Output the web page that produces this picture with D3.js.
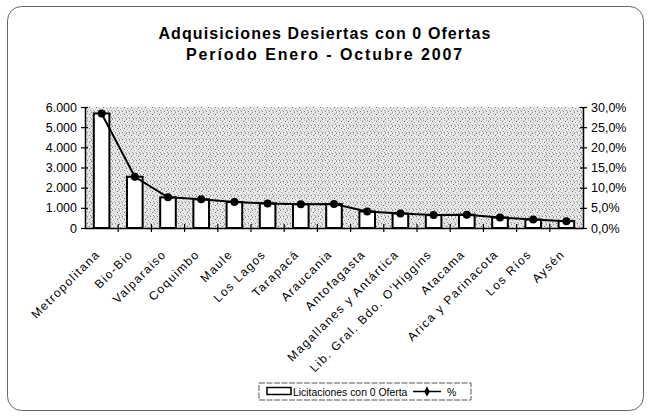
<!DOCTYPE html>
<html>
<head>
<meta charset="utf-8">
<script src="https://cdn.jsdelivr.net/npm/d3@7"></script>
<style>
  html, body { margin: 0; padding: 0; background: #fff; }
  svg text { font-family: "Liberation Sans", Arial, sans-serif; fill: #000; }
</style>
</head>
<body>
<div id="chart"></div>
<script>
/* ── data ─────────────────────────────────────── */
const regions = [
  'Metropolitana', 'Bio-Bio', 'Valparaiso', 'Coquimbo', 'Maule', 'Los Lagos',
  'Tarapacá', 'Araucania', 'Antofagasta', 'Magallanes y Antártica',
  "Lib. Gral. Bdo. O'Higgins", 'Atacama', 'Arica y Parinacota', 'Los Ríos', 'Aysén'
];
const licitaciones = [5680, 2540, 1520, 1420, 1290, 1220, 1180, 1190, 820, 720, 640, 660, 520, 420, 340];
const porcentaje   = [0.284, 0.127, 0.076, 0.071, 0.0645, 0.061, 0.059, 0.0595, 0.041, 0.036, 0.032, 0.033, 0.026, 0.021, 0.017];
const leftTicks    = [0, 1000, 2000, 3000, 4000, 5000, 6000];
const rightTicks   = [0, 0.05, 0.10, 0.15, 0.20, 0.25, 0.30];
const titleLines   = ['Adquisiciones Desiertas con 0 Ofertas', 'Período Enero - Octubre 2007'];

/* ── layout ───────────────────────────────────── */
const W = 649, H = 417;
const plot = { left: 85, right: 583, top: 107, bottom: 228 };
const fmtInt = n => n === 0 ? '0' : d3.format(',')(n).replace(/,/g, '.');
const fmtPct = p => d3.format('.1f')(p * 100).replace('.', ',') + '%';

const svg = d3.select('#chart').append('svg')
  .attr('width', W).attr('height', H);

svg.append('rect').attr('width', W).attr('height', H).attr('fill', '#fff');

// stipple texture for plot background (fixed tile)
const defs = svg.append('defs');
const pat = defs.append('pattern')
  .attr('id', 'stipple').attr('patternUnits', 'userSpaceOnUse')
  .attr('width', 7).attr('height', 7);
pat.append('rect').attr('width', 7).attr('height', 7).attr('fill', '#e8e8e8');
[[0,0,'#8a8a8a'],[3,1,'#b0b0b0'],[5,2,'#6e6e6e'],[1,3,'#a4a4a4'],[4,4,'#c0c0c0'],
 [6,5,'#909090'],[2,5,'#bcbcbc'],[0,6,'#b4b4b4'],[3,6,'#7c7c7c'],[6,1,'#c4c4c4']]
  .forEach(([x, y, c]) => pat.append('rect')
    .attr('x', x).attr('y', y).attr('width', 1).attr('height', 1).attr('fill', c));

// chart frame
svg.append('rect')
  .attr('x', 7.5).attr('y', 6.5).attr('width', 636).attr('height', 404)
  .attr('rx', 14).attr('fill', 'none')
  .attr('stroke', '#666').attr('stroke-width', 1);

/* ── title ────────────────────────────────────── */
svg.append('g').selectAll('text').data(titleLines).join('text')
  .attr('x', 325).attr('y', (d, i) => 39 + i * 21)
  .attr('text-anchor', 'middle')
  .attr('font-size', '16px').attr('font-weight', 'bold')
  .attr('letter-spacing', (d, i) => i === 0 ? '1.1px' : '1.9px')
  .text(d => d);

/* ── scales ───────────────────────────────────── */
const x = d3.scaleBand().domain(regions)
  .range([plot.left, plot.right]).paddingInner(0.53).paddingOuter(0.265);
const yL = d3.scaleLinear().domain([0, 6000]).range([plot.bottom, plot.top]);
const yR = d3.scaleLinear().domain([0, 0.30]).range([plot.bottom, plot.top]);
const step = x.step();

// plot background
svg.append('rect')
  .attr('x', plot.left).attr('y', plot.top)
  .attr('width', plot.right - plot.left).attr('height', plot.bottom - plot.top)
  .attr('fill', 'url(#stipple)');

/* ── bars ─────────────────────────────────────── */
svg.append('g').selectAll('rect').data(licitaciones).join('rect')
  .attr('x', (d, i) => x(regions[i]))
  .attr('y', d => yL(d))
  .attr('width', x.bandwidth())
  .attr('height', d => plot.bottom - yL(d))
  .attr('fill', '#fff').attr('stroke', '#000').attr('stroke-width', 2);

/* ── axes ─────────────────────────────────────── */
const axisL = svg.append('g').attr('transform', `translate(${plot.left},0)`)
  .call(d3.axisLeft(yL).tickValues(leftTicks).tickFormat(fmtInt).tickSizeInner(4).tickSizeOuter(0).tickPadding(4));
axisL.selectAll('.tick line').attr('x2', -4).attr('x1', 3);

const axisR = svg.append('g').attr('transform', `translate(${plot.right},0)`)
  .call(d3.axisRight(yR).tickValues(rightTicks).tickFormat(fmtPct).tickSizeInner(4).tickSizeOuter(0).tickPadding(4));
axisR.selectAll('.tick line').attr('x2', 4).attr('x1', -3);

const axisB = svg.append('g').attr('transform', `translate(0,${plot.bottom})`)
  .call(d3.axisBottom(x).tickSizeInner(0).tickSizeOuter(0));
axisB.selectAll('.tick line').remove();

// category boundary ticks crossing the axis
svg.append('g').selectAll('line').data(d3.range(1, regions.length)).join('line')
  .attr('x1', i => plot.left + i * step).attr('x2', i => plot.left + i * step)
  .attr('y1', plot.bottom - 4).attr('y2', plot.bottom + 4)
  .attr('stroke', '#000').attr('stroke-width', 1.2);

[axisL, axisR, axisB].forEach(g => {
  g.select('.domain').attr('stroke', '#000').attr('stroke-width', 1.5);
  g.selectAll('.tick line').attr('stroke', '#000').attr('stroke-width', 1.2);
  g.selectAll('text').attr('font-size', '12.5px')
    .attr('font-family', '"Liberation Sans", Arial, sans-serif').attr('fill', '#000');
});
axisB.selectAll('.tick text')
  .attr('text-anchor', 'end')
  .attr('dy', 0).attr('y', 0)
  .attr('font-size', '12px').attr('letter-spacing', '1.4px')
  .attr('transform', 'translate(-1,27) rotate(-45)');

/* ── line ─────────────────────────────────────── */
const cx = i => x(regions[i]) + x.bandwidth() / 2;
svg.append('path')
  .datum(porcentaje)
  .attr('fill', 'none').attr('stroke', '#000').attr('stroke-width', 2)
  .attr('d', d3.line().x((d, i) => cx(i)).y(d => yR(d)));

svg.append('g').selectAll('circle').data(porcentaje).join('circle')
  .attr('cx', (d, i) => cx(i)).attr('cy', d => yR(d)).attr('r', 4)
  .attr('fill', '#000');

/* ── legend ───────────────────────────────────── */
const lg = svg.append('g').attr('transform', 'translate(259,383)');
lg.append('rect').attr('width', 212).attr('height', 17)
  .attr('fill', '#fff').attr('stroke', '#555').attr('stroke-width', 1)
  .attr('stroke-dasharray', '6,1.5');
lg.append('rect').attr('x', 8).attr('y', 4.5).attr('width', 24).attr('height', 7)
  .attr('fill', '#fff').attr('stroke', '#000').attr('stroke-width', 1.5);
lg.append('text').attr('x', 34).attr('y', 13).attr('font-size', '10.4px')
  .text('Licitaciones con 0 Oferta');
lg.append('line').attr('x1', 154).attr('x2', 182).attr('y1', 8.5).attr('y2', 8.5)
  .attr('stroke', '#000').attr('stroke-width', 1.5);
lg.append('path').attr('transform', 'translate(168,8.5)')
  .attr('d', d3.symbol(d3.symbolDiamond, 28)()).attr('fill', '#000');
lg.append('text').attr('x', 188).attr('y', 13).attr('font-size', '10.4px').text('%');
</script>
</body>
</html>
